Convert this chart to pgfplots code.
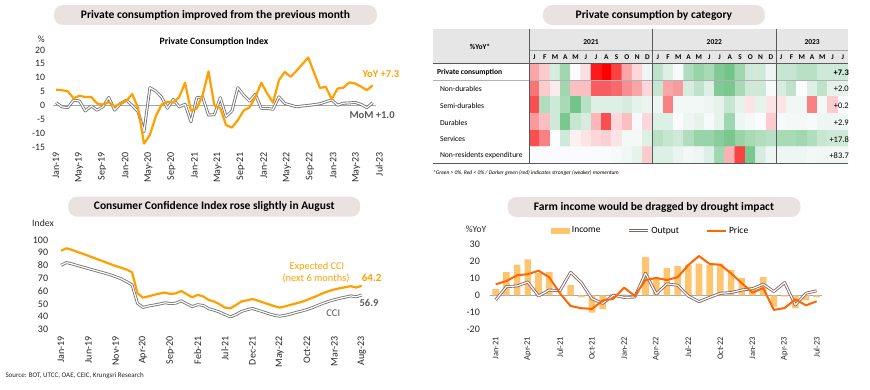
\documentclass[border=0pt]{standalone}
\usepackage{fontspec}
\setmainfont{Carlito}
\usepackage{pgfplots}
\pgfplotsset{compat=1.18}
\definecolor{pill}{RGB}{234,225,225}
\definecolor{yoy}{RGB}{255,160,0}
\definecolor{price}{RGB}{255,102,0}
\definecolor{income}{RGB}{255,196,110}
\definecolor{momc}{RGB}{115,115,115}
\definecolor{outc}{RGB}{130,100,100}
\definecolor{dgray}{RGB}{89,89,89}
\definecolor{hdr}{RGB}{231,230,230}
\definecolor{lin}{RGB}{90,90,90}
\pgfplotsset{
  base/.style={scale only axis, anchor=south west, axis line style={draw=none}, tick style={draw=none},
    /pgf/number format/assume math mode=true, tick label style={text=black!85}, clip=false},
  dbl/.style={line width=0.85pt, double=white, double distance=1.2pt, line join=round},
}
\begin{document}
\begin{tikzpicture}[x=1pt,y=1pt]
\useasboundingbox (0,0) rectangle (870,389);
% ---------- title pills
\tikzset{pillst/.style={fill=pill, rounded corners=9pt, minimum height=20pt, inner sep=0pt, font=\fontsize{11.5}{13}\selectfont\bfseries}}
\node[pillst, minimum width=323pt] at (215.5,374) {Private consumption improved from the previous month};
\node[pillst, minimum width=222pt] at (653.9,374) {Private consumption by category};
\node[pillst, minimum width=292pt] at (214.2,182.3) {Consumer Confidence Index rose slightly in August};
\node[pillst, minimum width=293pt] at (654,182) {Farm income would be dragged by drought impact};

% ---------- Panel 1: PCI
\begin{axis}[base, at={(53.07pt,242pt)}, width=328.5pt, height=97pt,
  xmin=-0.5, xmax=55.5, ymin=-15, ymax=20, ytick={-15,-10,...,20},
  xtick={0,3.936,7.871,11.807,15.743,19.679,23.614,27.55,31.486,35.421,39.357,43.293,47.229,51.164,55.1},
  xticklabels={Jan-19,May-19,Sep-19,Jan-20,May-20,Sep-20,Jan-21,May-21,Sep-21,Jan-22,May-22,Sep-22,Jan-23,May-23,Jul-23},
  xticklabel style={yshift=-5pt, rotate=90, anchor=east, inner sep=0pt, font=\fontsize{10}{11}\selectfont},
  yticklabel style={inner sep=0pt, anchor=east, xshift=-7.7pt, font=\fontsize{9.8}{10}\selectfont}]
\addplot[gray!70, line width=0.8pt, forget plot] coordinates {(-0.5,0) (54.5,0)};
\addplot[momc, dbl] coordinates {
(0,1.0) (1,-0.5) (2,-0.8) (3,1.9) (4,1.6) (5,-2.0) (6,-0.2) (7,-1.7) (8,-0.5) (9,2.9)
(10,-1.7) (11,0.7) (12,1.9) (13,0.0) (14,-2.3) (15,-9.5) (16,6.4) (17,5.2) (18,3.0) (19,-1.0)
(20,2.2) (21,-0.5) (22,0.4) (23,-5.9) (24,2.8) (25,3.0) (26,-3.5) (27,-3.3) (28,2.8) (29,-4.0)
(30,-2.0) (31,6.4) (32,3.7) (33,1.6) (34,4.0) (35,-1.1) (36,-1.1) (37,-1.4) (38,3.1) (39,0.7)
(40,0.1) (41,-0.5) (42,-0.2) (43,0.0) (44,0.3) (45,0.6) (46,1.3) (47,2.0) (48,0.1) (49,0.8)
(50,0.9) (51,1.1) (52,0.4) (53,-0.8) (54,1.0)};
\addplot[yoy, line width=2.2pt, line join=round] coordinates {
(0,5.7) (1,5.5) (2,5.1) (3,2.6) (4,3.5) (5,3.0) (6,3.1) (7,0.7) (8,0.3) (9,1.2)
(10,-0.3) (11,0.7) (12,1.7) (13,4.1) (14,-1.0) (15,-13.8) (16,-10.7) (17,-4.0) (18,0.3) (19,1.3)
(20,1.0) (21,3.0) (22,8.2) (23,-1.9) (24,-1.1) (25,3.7) (26,12.3) (27,0.0) (28,-1.0) (29,-7.1)
(30,-8.0) (31,-5.3) (32,-1.8) (33,-0.7) (34,3.1) (35,8.2) (36,4.3) (37,1.0) (38,9.1) (39,12.1)
(40,10.3) (41,12.5) (42,14.9) (43,17.3) (44,11.8) (45,6.3) (46,6.7) (47,2.2) (48,6.1) (49,6.4)
(50,8.3) (51,7.9) (52,6.8) (53,5.5) (54,7.3)};
\end{axis}
\node[font=\fontsize{9.5}{10}\selectfont, text=black!85] at (41.3,349.7) {\%};
\node[font=\fontsize{9.7}{11}\selectfont\bfseries] at (214,346.7) {Private Consumption Index};
\node[anchor=west, font=\fontsize{10.5}{12}\selectfont\bfseries, text=yoy] at (359,315) {YoY +7.3};
\node[anchor=west, font=\fontsize{10.5}{12}\selectfont\bfseries, text=dgray] at (346,274) {MoM +1.0};

% ---------- Panel 2: heatmap
\fill[hdr] (432.7,359.7) rectangle (848,325.7);
\begin{axis}[scale only axis, anchor=south west, at={(529.3pt,225.7pt)}, width=318.7pt, height=100pt,
  hide axis, xmin=-0.5, xmax=30.5, ymin=-0.5, ymax=5.5, y dir=reverse,
  colormap={hm}{rgb255(0cm)=(255,0,0); rgb255(4cm)=(248,105,107); rgb255(10cm)=(252,252,255); rgb255(20cm)=(99,190,123)},
  point meta min=-1, point meta max=1]
\addplot[matrix plot*, mesh/cols=31, point meta=explicit] coordinates {
(0,0) [-0.35] (1,0) [-0.2] (2,0) [0.25] (3,0) [0.6] (4,0) [0] (5,0) [-0.12] (6,0) [-0.9] (7,0) [-1] (8,0) [-0.75] (9,0) [-0.35] (10,0) [-0.15] (11,0) [0.1] (12,0) [0.4] (13,0) [0.2] (14,0) [0.03] (15,0) [0.5] (16,0) [0.65] (17,0) [0.55] (18,0) [0.8] (19,0) [0.9] (20,0) [0.6] (21,0) [0.3] (22,0) [0.3] (23,0) [0.1] (24,0) [0.35] (25,0) [0.35] (26,0) [0.45] (27,0) [0.45] (28,0) [0.3] (29,0) [0.3] (30,0) [0.3]
(0,1) [-0.55] (1,1) [-0.2] (2,1) [-0.07] (3,1) [0.6] (4,1) [-0.25] (5,1) [-0.25] (6,1) [-0.65] (7,1) [-0.65] (8,1) [-0.6] (9,1) [-0.45] (10,1) [-0.35] (11,1) [-0.15] (12,1) [0.35] (13,1) [-0.35] (14,1) [-0.4] (15,1) [0.25] (16,1) [0.4] (17,1) [0.2] (18,1) [0.8] (19,1) [0.85] (20,1) [0.55] (21,1) [0.3] (22,1) [0.3] (23,1) [0.03] (24,1) [0.25] (25,1) [0.4] (26,1) [0] (27,1) [0.2] (28,1) [0.4] (29,1) [0.15] (30,1) [0.15]
(0,2) [-0.7] (1,2) [0.5] (2,2) [0.3] (3,2) [0.55] (4,2) [0.9] (5,2) [0.45] (6,2) [0.2] (7,2) [0.2] (8,2) [0.2] (9,2) [0.25] (10,2) [0.15] (11,2) [0.12] (12,2) [0.1] (13,2) [-0.5] (14,2) [0.07] (15,2) [0.07] (16,2) [0.07] (17,2) [0.1] (18,2) [0.15] (19,2) [0.35] (20,2) [0.15] (21,2) [-0.1] (22,2) [0.15] (23,2) [-0.1] (24,2) [-0.1] (25,2) [0.08] (26,2) [0.08] (27,2) [-0.5] (28,2) [0.05] (29,2) [-0.2] (30,2) [0.02]
(0,3) [-0.4] (1,3) [-0.25] (2,3) [0.3] (3,3) [0.85] (4,3) [0.35] (5,3) [0.25] (6,3) [-0.28] (7,3) [-0.7] (8,3) [-0.15] (9,3) [-0.25] (10,3) [0.03] (11,3) [-0.15] (12,3) [0.2] (13,3) [0.2] (14,3) [0.02] (15,3) [0.1] (16,3) [0.15] (17,3) [0.03] (18,3) [0.15] (19,3) [0.6] (20,3) [0.1] (21,3) [0.05] (22,3) [0] (23,3) [-0.2] (24,3) [0.03] (25,3) [0.05] (26,3) [0.05] (27,3) [0.03] (28,3) [0.1] (29,3) [0.1] (30,3) [0.1]
(0,4) [-0.7] (1,4) [-0.5] (2,4) [0] (3,4) [0.3] (4,4) [-0.05] (5,4) [-0.1] (6,4) [-0.15] (7,4) [-0.18] (8,4) [-0.1] (9,4) [0.05] (10,4) [0.05] (11,4) [0.2] (12,4) [0.45] (13,4) [0.35] (14,4) [0.3] (15,4) [0.5] (16,4) [0.65] (17,4) [0.65] (18,4) [0.75] (19,4) [0.85] (20,4) [0.65] (21,4) [0.55] (22,4) [0.5] (23,4) [0.45] (24,4) [0.55] (25,4) [0.55] (26,4) [0.6] (27,4) [0.5] (28,4) [0.35] (29,4) [0.3] (30,4) [0.3]
(0,5) [0.01] (1,5) [0.01] (2,5) [0.01] (3,5) [0.01] (4,5) [0.02] (5,5) [0.01] (6,5) [0.01] (7,5) [0.02] (8,5) [0.03] (9,5) [0.08] (10,5) [0.15] (11,5) [-0.2] (12,5) [0.2] (13,5) [0.2] (14,5) [0.12] (15,5) [0.06] (16,5) [0.1] (17,5) [0.2] (18,5) [0.6] (19,5) [-0.3] (20,5) [-0.75] (21,5) [0.85] (22,5) [0.25] (23,5) [0.1] (24,5) [0.1] (25,5) [0.1] (26,5) [0.1] (27,5) [0.06] (28,5) [0.08] (29,5) [0.08] (30,5) [0.08]
};
\end{axis}
% table lines
\draw[gray!70, line width=0.5pt] (529.3,339) -- (848,339);
\draw[lin, line width=0.9pt] (432.7,325.7) -- (848,325.7);
\draw[gray!60, line width=0.7pt] (432.7,309) -- (848,309);
\draw[lin, line width=0.8pt] (432.7,225.7) -- (848,225.7);
\draw[lin, line width=0.8pt] (529.3,359.7) -- (529.3,225.7);
\draw[lin, line width=1pt] (652.7,359.7) -- (652.7,225.7);
\draw[lin, line width=1pt] (776.7,359.7) -- (776.7,225.7);
\node[font=\fontsize{7.5}{9}\selectfont\bfseries] at (480,342.3) {\%YoY*};
\foreach \yy/\xx in {2021/591,2022/714.3,2023/812.1}
  \node[font=\fontsize{7.5}{9}\selectfont\bfseries] at (\xx,346.5) {\yy};
\foreach \m [count=\k from 0] in {J,F,M,A,M,J,J,A,S,O,N,D,J,F,M,A,M,J,J,A,S,O,N,D,J,F,M,A,M,J,J}
  \node[font=\fontsize{7.3}{8}\selectfont\bfseries] at ({529.3+10.28*(\k+0.5)},331.7) {\m};
\node[anchor=west, font=\fontsize{7.6}{9}\selectfont\bfseries] at (433.5,316.5) {Private consumption};
\foreach \lab/\yy in {Non-durables/299.8,Semi-durables/283.1,Durables/266.5,Services/249.8,Non-residents expenditure/233.1}
  \node[anchor=west, font=\fontsize{7.6}{9}\selectfont] at (436.5,\yy) {\lab};
\node[anchor=east, inner sep=0pt, font=\fontsize{8.5}{9}\selectfont\bfseries] at (849,316.5) {+7.3};
\foreach \v/\yy in {+2.0/299.8,+0.2/283.1,+2.9/266.5,+17.8/249.8,+83.7/233.1}
  \node[anchor=east, inner sep=0pt, font=\fontsize{8.5}{9}\selectfont] at (849,\yy) {\v};
\node[anchor=west, inner sep=0pt, font=\fontsize{5.5}{6}\selectfont\itshape] at (433,216) {*Green > 0\%, Red < 0\% / Darker green (red) indicates stronger (weaker) momentum};

% ---------- Panel 3: CCI
\begin{axis}[base, at={(61pt,59.7pt)}, width=300.7pt, height=89.3pt,
  xmin=0, xmax=55, ymin=30, ymax=100, ytick={30,40,...,100},
  xtick={0,5,...,55}, xticklabels={Jan-19,Jun-19,Nov-19,Apr-20,Sep-20,Feb-21,Jul-21,Dec-21,May-22,Oct-22,Mar-23,Aug-23},
  xticklabel style={yshift=-7pt, rotate=90, anchor=east, inner sep=0pt, font=\fontsize{10}{11}\selectfont},
  yticklabel style={inner sep=0pt, anchor=east, xshift=-12.7pt, font=\fontsize{10}{11}\selectfont}]
\addplot[momc, dbl] coordinates {
(0,80.2) (1,82.3) (2,81.3) (3,80.0) (4,78.8) (5,77.6) (6,76.4) (7,75.2) (8,74.0) (9,72.8)
(10,71.2) (11,69.6) (12,67.3) (13,64.8) (14,50.3) (15,47.2) (16,48.2) (17,49.0) (18,49.8) (19,50.8)
(20,50.2) (21,50.5) (22,52.3) (23,50.0) (24,47.8) (25,49.3) (26,48.7) (27,46.2) (28,45.0) (29,43.5)
(30,41.5) (31,39.8) (32,41.5) (33,44.0) (34,45.3) (35,46.3) (36,45.0) (37,43.6) (38,42.2) (39,41.0)
(40,40.2) (41,41.0) (42,42.0) (43,43.2) (44,44.3) (45,45.5) (46,47.0) (47,48.8) (48,50.5) (49,52.0)
(50,53.2) (51,54.3) (52,55.2) (53,56.2) (54,55.5) (55,56.9)};
\addplot[yoy, line width=2.2pt, line join=round] coordinates {
(0,91.6) (1,93.5) (2,92.3) (3,90.7) (4,89.2) (5,87.6) (6,86.0) (7,84.4) (8,82.8) (9,81.2)
(10,79.6) (11,78.3) (12,76.8) (13,74.7) (14,58.2) (15,54.8) (16,55.8) (17,57.0) (18,58.0) (19,58.8)
(20,57.7) (21,58.2) (22,60.0) (23,57.5) (24,55.1) (25,57.0) (26,55.8) (27,53.0) (28,51.8) (29,49.6)
(30,47.0) (31,46.5) (32,49.0) (33,51.8) (34,52.7) (35,53.7) (36,52.5) (37,51.0) (38,49.6) (39,48.2)
(40,47.0) (41,48.0) (42,49.2) (43,50.3) (44,51.5) (45,53.0) (46,54.8) (47,56.5) (48,58.5) (49,60.0)
(50,61.2) (51,62.2) (52,63.0) (53,63.8) (54,62.7) (55,64.2)};
\end{axis}
\node[font=\fontsize{9.7}{11}\selectfont, text=black!85] at (43,166) {Index};
\node[font=\fontsize{10.4}{12}\selectfont, text=yoy] at (317,122) {Expected CCI};
\node[font=\fontsize{10.4}{12}\selectfont, text=yoy] at (316,111) {(next 6 months)};
\node[font=\fontsize{11}{12}\selectfont\bfseries, text=yoy] at (371.7,111) {64.2};
\node[font=\fontsize{10.5}{12}\selectfont\bfseries, text=dgray] at (369,85.7) {56.9};
\node[font=\fontsize{10.4}{12}\selectfont, text=dgray] at (333.3,76.3) {CCI};
\node[anchor=west, font=\fontsize{7}{8}\selectfont, text=black!85] at (2,13.3) {Source: BOT, UTCC, OAE, CEIC, Krungsri Research};

% ---------- Panel 4: Farm income
\begin{axis}[base, at={(490.35pt,59.7pt)}, width=331.7pt, height=85pt,
  xmin=-0.5, xmax=30.5, ymin=-20, ymax=30, ytick={-20,-10,...,30},
  xtick={0,3,...,30}, xticklabels={Jan-21,Apr-21,Jul-21,Oct-21,Jan-22,Apr-22,Jul-22,Oct-22,Jan-23,Apr-23,Jul-23},
  xticklabel style={yshift=-7.4pt, rotate=90, anchor=east, inner sep=0pt, font=\fontsize{8.5}{10}\selectfont},
  yticklabel style={inner sep=0pt, anchor=east, xshift=-10.3pt, font=\fontsize{10}{11}\selectfont},
  legend style={at={(0.483,1.16)}, anchor=center, draw=none, fill=none, legend columns=3,
    font=\fontsize{9.5}{11}\selectfont, inner sep=0pt,
    /tikz/every even column/.append style={column sep=25pt}}]
\addplot[gray!70, line width=0.8pt, forget plot] coordinates {(-0.5,0) (30.5,0)};
\addplot[ybar, bar width=6.6pt, fill=income, draw=none,
  legend image code/.code={\fill[income] (0pt,-3pt) rectangle (19pt,3pt);}] coordinates {
(0,3.7) (1,13.7) (2,18.0) (3,21.2) (4,13.0) (5,13.8) (6,0) (7,6.1) (8,-1.2) (9,-10.2)
(10,-8.1) (11,0.8) (12,0.5) (13,-0.3) (14,22.5) (15,10.4) (16,16.0) (17,17.3) (18,17.8) (19,18.6)
(20,17.8) (21,18.5) (22,14.8) (23,10.3) (24,5.0) (25,10.8) (26,-6.7) (27,-0.8) (28,-7.7) (29,-3.0) (30,-1.2)};
\addlegendentry{Income}
\addplot[outc, dbl,
  legend image code/.code={\draw[outc, line width=0.85pt, double=white, double distance=1.2pt] (0pt,0pt) -- (19pt,0pt);}] coordinates {
(0,-2.7) (1,5.1) (2,5.5) (3,7.8) (4,-0.4) (5,3.1) (6,2.7) (7,13.5) (8,7.5) (9,-2.0)
(10,-4.7) (11,0.0) (12,-1.2) (13,-1.0) (14,13.0) (15,0.8) (16,6.7) (17,5.9) (18,-0.4) (19,-3.7)
(20,-1.2) (21,1.2) (22,1.6) (23,3.1) (24,3.9) (25,6.5) (26,2.2) (27,7.5) (28,-5.7) (29,1.2) (30,2.7)};
\addlegendentry{Output}
\addplot[price, line width=2pt, line join=round,
  legend image code/.code={\draw[price, line width=2pt] (0pt,0pt) -- (19pt,0pt);}] coordinates {
(0,6.5) (1,8.4) (2,11.8) (3,12.4) (4,14.5) (5,10.6) (6,1.2) (7,-6.3) (8,-7.6) (9,-8.0)
(10,-3.1) (11,-2.0) (12,4.5) (13,-0.4) (14,9.0) (15,10.2) (16,9.0) (17,10.6) (18,17.8) (19,23.1)
(20,18.4) (21,18.0) (22,12.9) (23,7.1) (24,1.6) (25,4.3) (26,-8.6) (27,-7.5) (28,-2.4) (29,-5.9) (30,-3.5)};
\addlegendentry{Price}
\end{axis}
\node[font=\fontsize{9.5}{11}\selectfont, text=black!85] at (476,159.7) {\%YoY};
\end{tikzpicture}
\end{document}
